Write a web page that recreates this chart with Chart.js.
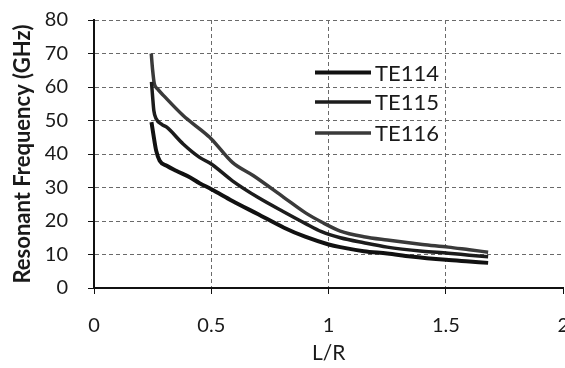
<!DOCTYPE html>
<html>
<head>
<meta charset="utf-8">
<script src="https://cdn.jsdelivr.net/npm/chart.js@4"></script>
<style>
  html, body { margin: 0; padding: 0; background: #fff; overflow: hidden; }
  #wrap { width: 565px; height: 368px; overflow: hidden; position: relative; }
  #plot { position: absolute; left: 0; top: -12px; }
</style>
</head>
<body>
<div id="wrap"><canvas id="plot" width="589" height="380"></canvas></div>
<script>
// L/R vs resonant frequency (GHz)
var lr114 = [0.245, 0.255, 0.265, 0.28, 0.31, 0.35, 0.41, 0.45, 0.5, 0.59, 0.7, 0.81, 0.9, 1.0, 1.05, 1.15, 1.25, 1.35, 1.5, 1.6, 1.68];
var f114  = [49.5, 45, 41, 38, 36.5, 35, 33, 31.3, 29.5, 26, 22, 18, 15.3, 13, 12.2, 11, 10.3, 9.4, 8.4, 7.9, 7.5];

var lr115 = [0.245, 0.25, 0.255, 0.265, 0.29, 0.31, 0.38, 0.45, 0.5, 0.59, 0.7, 0.81, 0.9, 0.97, 1.05, 1.15, 1.25, 1.4, 1.51, 1.6, 1.68];
var f115  = [61.5, 57, 53, 50.5, 48.8, 48, 43, 39, 37, 32, 27, 22.7, 19.3, 16.8, 15, 13.5, 12.2, 11, 10.4, 9.8, 9.3];

var lr116 = [0.244, 0.25, 0.257, 0.27, 0.3, 0.38, 0.45, 0.5, 0.59, 0.68, 0.81, 0.9, 0.97, 1.05, 1.15, 1.25, 1.4, 1.51, 1.6, 1.68];
var f116  = [70, 65, 61, 59.5, 57.2, 51.5, 47.5, 44.5, 37.5, 33.5, 27, 22.5, 19.7, 17, 15.3, 14.3, 13, 12.2, 11.4, 10.7];

var modeNames = ['TE114', 'TE115', 'TE116'];
var xTicks = [0, 0.5, 1, 1.5, 2];

function pts(xs, ys) {
  return xs.map(function (x, i) { return { x: x, y: ys[i] }; });
}

// legend sits inside the plot, lines then labels (canvas is shifted up 12px)
var innerLegend = {
  id: 'innerLegend',
  afterDatasetsDraw: function (chart) {
    var c = chart.ctx;
    var rows = [84.5, 114, 145];
    c.save();
    chart.data.datasets.forEach(function (ds, i) {
      c.strokeStyle = ds.borderColor;
      c.lineWidth = ds.borderWidth;
      c.beginPath();
      c.moveTo(315, rows[i]);
      c.lineTo(371, rows[i]);
      c.stroke();
      c.fillStyle = '#1a1a1a';
      c.font = '22px Lato';
      c.textBaseline = 'middle';
      c.fillText(ds.label, 375, rows[i] + 1);
    });
    c.restore();
  }
};

new Chart(document.getElementById('plot'), {
  type: 'scatter',
  data: {
    datasets: [
      { label: modeNames[0], data: pts(lr114, f114), borderColor: '#111111', borderWidth: 4 },
      { label: modeNames[1], data: pts(lr115, f115), borderColor: '#1c1c1c', borderWidth: 3.5 },
      { label: modeNames[2], data: pts(lr116, f116), borderColor: '#3a3a3a', borderWidth: 3.5 }
    ].map(function (d) {
      d.showLine = true;
      d.pointRadius = 0;
      d.cubicInterpolationMode = 'monotone';
      d.fill = false;
      return d;
    })
  },
  options: {
    responsive: false,
    animation: false,
    layout: { padding: { top: 8, right: 12, left: 0, bottom: 0 } },
    plugins: { legend: { display: false }, tooltip: { enabled: false } },
    scales: {
      x: {
        type: 'linear',
        min: 0,
        max: 2,
        afterBuildTicks: function (s) { s.ticks = xTicks.map(function (v) { return { value: v }; }); },
        grid: {
          color: function (ctx) { return ctx.tick && ctx.tick.value === 2 ? 'rgba(0,0,0,0)' : '#6a6a6a'; },
          lineWidth: 1,
          tickLength: 6,
          tickColor: '#111'
        },
        border: { color: '#111', width: 2, dash: [4, 3] },
        ticks: {
          color: '#1a1a1a', font: { family: 'Lato', size: 20 }, padding: 20, maxRotation: 0,
          callback: function (v) { return String(v); }
        },
        title: { display: true, text: 'L/R', color: '#1a1a1a', font: { family: 'Lato', size: 21 }, padding: { top: 0, bottom: 2 } },
        afterFit: function (s) { s.height = 80; }
      },
      y: {
        min: 0,
        max: 80,
        ticks: { stepSize: 10, color: '#1a1a1a', font: { family: 'Lato', size: 20 }, padding: 20 },
        grid: { color: '#6a6a6a', lineWidth: 1, tickLength: 6, tickColor: '#111' },
        border: { color: '#111', width: 2, dash: [4, 3] },
        title: { display: true, text: 'Resonant Frequency (GHz)', color: '#1a1a1a', font: { family: 'Lato', size: 22, weight: 'bold' }, padding: { top: 10, bottom: 0 } },
        afterFit: function (s) { s.width = 94; }
      }
    }
  },
  plugins: [innerLegend]
});
</script>
</body>
</html>
